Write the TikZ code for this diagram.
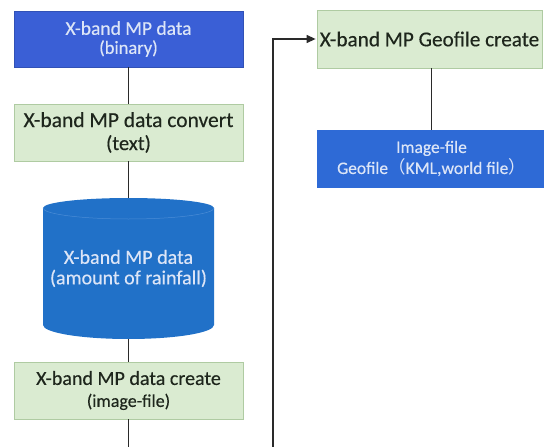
\documentclass[tikz,border=0pt]{standalone}
\usepackage{fontspec}
\setmainfont{Carlito}[FakeBold=0.35]
\newfontfamily\cjkfont{Noto Sans CJK SC}
\usetikzlibrary{arrows.meta}

\definecolor{boxblue}{HTML}{3A5FD6}
\definecolor{fileblue}{HTML}{2E6AD6}
\definecolor{dbblue}{HTML}{2171C8}
\definecolor{dbedge}{HTML}{4A8CD6}
\definecolor{procgreen}{HTML}{DAEBD1}
\definecolor{procedge}{HTML}{AFCBA2}
\definecolor{lighttext}{HTML}{DCE5F7}
\definecolor{darktext}{HTML}{1E261C}
\definecolor{wire}{HTML}{2A2A2A}

\tikzset{
  databox/.style={rectangle, fill=boxblue, draw=boxblue!85!black, line width=0.4pt,
    text=lighttext, align=center, inner sep=0pt},
  procbox/.style={rectangle, fill=procgreen, draw=procedge, line width=0.8pt,
    text=darktext, align=center, inner sep=0pt},
  wirestyle/.style={draw=wire, line width=1.3pt},
}

\begin{document}
\begin{tikzpicture}[x=1pt,y=-1pt]
  \useasboundingbox (0,0) rectangle (544,447);
  \clip (0,0) rectangle (544,447);

  % left column
  \node[databox, minimum width=229pt, minimum height=56pt,
        font={\fontsize{19.5}{19}\selectfont}] (raw) at (128.5,39)
    {X-band MP data\\{\fontsize{18.5}{19}\selectfont (binary)}};

  \node[procbox, minimum width=229pt, minimum height=57pt,
        font={\fontsize{21.5}{23}\selectfont}] (conv) at (128.5,132.5)
    {X-band MP data convert\\{\fontsize{20.5}{23}\selectfont (text)}};

  % rainfall data store (cylinder)
  \fill[dbblue] (43,208) -- (43,325) arc[start angle=180, end angle=360, x radius=85.5, y radius=-14]
    -- (214,208) arc[start angle=0, end angle=180, x radius=85.5, y radius=-10] -- cycle;
  \draw[dbedge, line width=0.5pt] (43,208) arc[start angle=180, end angle=360, x radius=85.5, y radius=-11];
  \node[rectangle, minimum width=171pt, minimum height=141pt, inner sep=0pt,
        text=lighttext, align=center, font={\fontsize{20}{20.5}\selectfont}] (rain) at (128.5,268.5)
    {X-band MP data\\(amount of rainfall)};

  \node[procbox, minimum width=229pt, minimum height=57pt,
        font={\fontsize{20}{22}\selectfont}] (mkimg) at (128.5,390.5)
    {X-band MP data create\\{\fontsize{18}{22}\selectfont (image-file)}};

  % right column
  \node[procbox, minimum width=225pt, minimum height=58pt,
        font={\fontsize{21.2}{23}\selectfont}] (geo) at (429.5,39)
    {X-band MP Geofile create};

  \node[databox, fill=fileblue, draw=fileblue, minimum width=229pt, minimum height=57pt,
        font={\fontsize{17.5}{21}\selectfont}] (files) at (431.5,158.5)
    {Image-file\\Geofile{\cjkfont （}KML,world file{\cjkfont ）}};

  % connectors
  \coordinate (lowL) at (128.5,470);
  \coordinate (lowR) at (273,470);
  \coordinate (upR) at (273,39);

  \draw[wirestyle] (raw) -- (conv);
  \draw[wirestyle] (conv.south) -- (128.5,198);
  \draw[wirestyle] (rain.south) -- (mkimg.north);
  \draw[wirestyle] (files.north |- geo.south) -- (files.north);
  \draw[wirestyle, -{Triangle[length=9pt,width=8pt]}, shorten >=1pt]
    (mkimg.south) -- (lowL) -- (lowR) -- (upR) -- (geo.west);
\end{tikzpicture}
\end{document}
